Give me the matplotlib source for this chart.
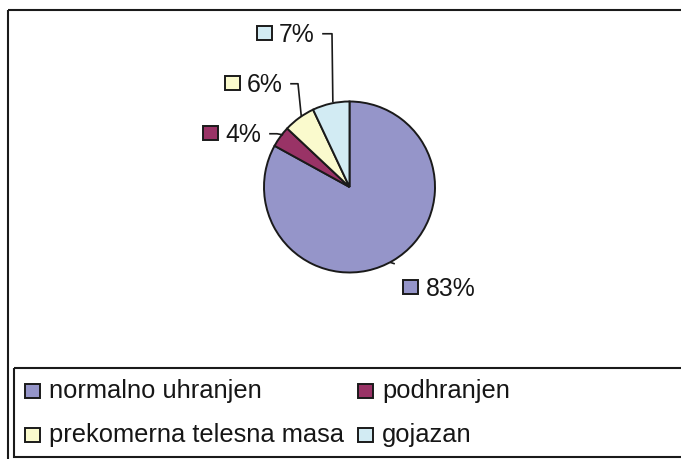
import matplotlib
matplotlib.use("Agg")
import matplotlib.pyplot as plt
import numpy as np
from matplotlib.patches import Rectangle
from matplotlib.lines import Line2D
from matplotlib.transforms import Affine2D

# ---- data ----
categories = ["normalno uhranjen", "podhranjen", "prekomerna telesna masa", "gojazan"]
values = [83, 4, 6, 7]
labels = ["83%", "4%", "6%", "7%"]
colors = ["#9595C9", "#993366", "#FAFACD", "#D2EBF3"]

plt.rcParams['font.family'] = ['Liberation Sans', 'DejaVu Sans']
TXT = "#161616"
EDGE = "#1a1a1a"

W, H = 681, 459
fig = plt.figure(figsize=(W / 100, H / 100), dpi=100)
fig.patch.set_facecolor("white")
# pixel coordinates, y downward
px = Affine2D().scale(1 / W, -1 / H).translate(0, 1) + fig.transFigure

# ---- pie ----
cx, cy, r = 349.5, 187.0, 85.5
ax = fig.add_axes([(cx - r) / W, 1 - (cy + r) / H, 2 * r / W, 2 * r / H])
wedges, _ = ax.pie(values, colors=colors, startangle=90, counterclock=False,
                   radius=1, wedgeprops=dict(edgecolor=EDGE, linewidth=1.4))
for w in wedges:
    w.set_clip_on(False)
ax.set_xlim(-1, 1)
ax.set_ylim(-1, 1)
ax.set_aspect('equal', adjustable='box')
ax.axis('off')

# ---- data labels with leader lines ----
# layout per slice: square left x, square bottom y, text x, leader start x, corner x
label_layout = [
    (403, 294, 426, None, None),   # 83%
    (203, 140, 225, 270, 277),     # 4%
    (225, 90, 247, 291, 298),      # 6%
    (257, 40, 279, 323, 332),      # 7%
]
sq = 14.5
total = float(sum(values))
angle = 90.0
for i, (val, lab, col) in enumerate(zip(values, labels, colors)):
    span = 360.0 * val / total
    mid = np.deg2rad(angle - span / 2)
    angle -= span
    sx, sb, tx, lx, kx = label_layout[i]
    fig.add_artist(Rectangle((sx, sb), sq, -sq, transform=px, facecolor=col,
                             edgecolor=EDGE, linewidth=1.4))
    fig.text(tx, sb + 2, lab, transform=px, fontsize=17.8, color=TXT,
             ha='left', va='baseline')
    ex = cx + r * np.cos(mid)
    ey = cy - r * np.sin(mid)
    if lx is not None:
        ly = sb - sq / 2 + 1
        fig.add_artist(Line2D([lx, kx, ex + 2], [ly, ly, ey - 2], transform=px,
                              color=EDGE, linewidth=1.2))
    else:
        fig.add_artist(Line2D([ex - 2, ex + 1], [ey + 2, ey + 3], transform=px,
                              color=EDGE, linewidth=1.2))

# ---- outer frame ----
fig.add_artist(Rectangle((7.5, 10), W + 10, H + 10, transform=px,
                         facecolor='none', edgecolor=EDGE, linewidth=1.5))

# ---- legend ----
fig.add_artist(Rectangle((14, 368), W + 10, 89, transform=px,
                         facecolor='none', edgecolor=EDGE, linewidth=1.5))
leg_pos = [(25, 398), (358, 398), (25, 442), (358, 442)]
for (lx0, lb), cat, col in zip(leg_pos, categories, colors):
    fig.add_artist(Rectangle((lx0, lb), sq, -sq, transform=px, facecolor=col,
                             edgecolor=EDGE, linewidth=1.4))
    fig.text(lx0 + 24, lb, cat, transform=px, fontsize=18.4, color=TXT,
             ha='left', va='baseline')

fig.savefig("out.png", dpi=100)
